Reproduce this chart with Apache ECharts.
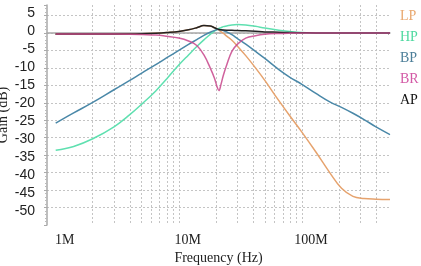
<!DOCTYPE html>
<html><head><meta charset="utf-8">
<script src="https://cdn.jsdelivr.net/npm/echarts@6/dist/echarts.min.js"></script>
<style>html,body{margin:0;padding:0;background:#fff}#c{width:421px;height:266px}</style>
</head><body><div id="c"></div>
<script>
const freqHz = [1e6, 1.4e6, 2e6, 3e6, 4e6, 5e6, 6.5e6, 8e6, 10e6, 12e6, 14e6, 16e6, 18e6, 19.5e6, 20.5e6, 21.2e6, 22e6, 23e6, 24.5e6, 27e6, 30e6, 35e6, 42e6, 50e6, 65e6, 80e6, 100e6, 130e6, 170e6, 210e6, 260e6, 320e6, 400e6, 520e6];
const lpGain = [-0.3,-0.3,-0.3,-0.3,-0.3,-0.25,-0.1,0.1,0.4,0.9,1.5,2.1,2.0,1.5,1.1,0.8,0.4,-0.1,-0.9,-2.1,-3.8,-6.5,-10.0,-13.6,-19.4,-23.8,-28.4,-34.1,-40.2,-44.5,-46.8,-47.4,-47.6,-47.7];
const hpGain = [-33.6,-32.5,-30.3,-26.8,-23.4,-20.4,-16.6,-13.1,-9.2,-6.3,-3.9,-2.0,-0.4,0.5,1.0,1.3,1.5,1.8,2.0,2.3,2.4,2.3,1.9,1.4,0.8,0.4,0.1,0,-0.05,-0.05,-0.05,-0.05,-0.05,-0.05];
const bpGain = [-25.8,-22.9,-19.9,-16.2,-13.6,-11.5,-9.1,-7.1,-5.0,-3.3,-1.9,-0.7,0.2,0.7,0.95,1.0,0.9,0.7,0.3,-0.5,-1.6,-3.2,-5.3,-7.3,-10.5,-12.7,-14.7,-17.3,-19.8,-21.3,-23.0,-24.8,-26.9,-29.1];
const brGain = [-0.3,-0.3,-0.3,-0.3,-0.35,-0.45,-0.6,-0.95,-1.45,-2.3,-3.6,-6.3,-10.0,-13.0,-15.5,-16.5,-14.8,-12.2,-9.2,-5.3,-3.2,-1.5,-0.8,-0.4,-0.15,-0.05,0,0,0,0,0,0,0,0];
const apGain = [-0.3,-0.3,-0.3,-0.3,-0.3,-0.25,-0.1,0.1,0.4,0.9,1.5,2.1,2.0,1.5,1.15,1.0,0.9,0.85,0.8,0.75,0.7,0.6,0.45,0.3,0.2,0.1,0.05,0,0,0,0,0,0,0];

const xGridValues = [1e6,2e6,3e6,4e6,5e6,6e6,7e6,8e6,9e6,1e7,2e7,3e7,4e7,5e7,6e7,7e7,8e7,9e7,1e8,2e8,3e8,4e8,5e8];
const xTickValues = [1e6, 1e7, 1e8];
const xTickLabels = ['1M', '10M', '100M'];
const yTickValues = [5, 0, -5, -10, -15, -20, -25, -30, -35, -40, -45, -50];

const names = ['LP', 'HP', 'BP', 'BR', 'AP'];
const lineColors = {LP: '#e6a36e', HP: '#5fe0b0', BP: '#4a88a8', BR: '#c8468c', AP: '#222222'};
const legendColors = {LP: '#e9a86f', HP: '#4fd9a0', BP: '#4d7f99', BR: '#d35aa6', AP: '#111111'};
const gains = {LP: lpGain, HP: hpGain, BP: bpGain, BR: brGain, AP: apGain};
const drawOrder = ['LP', 'HP', 'BP', 'AP', 'BR'];

const serif = 'Liberation Serif';
const chart = echarts.init(document.getElementById('c'), null, {renderer: 'canvas'});
chart.setOption({
  animation: false,
  backgroundColor: '#ffffff',
  grid: {left: 47, right: 31, top: 5, bottom: 41, containLabel: false, outerBoundsMode: 'none'},
  legend: {
    orient: 'vertical', left: 390, top: 4, icon: 'none', itemWidth: 0, itemHeight: 14, itemGap: 7,
    selectedMode: false,
    textStyle: {fontFamily: serif, fontSize: 14},
    data: names.map(n => ({name: n, textStyle: {color: legendColors[n]}}))
  },
  xAxis: {
    type: 'log', logBase: 10, min: 8.5e5, max: 5.2e8,
    name: 'Frequency (Hz)', nameLocation: 'middle', nameGap: 26, nameMoveOverlap: false,
    nameTextStyle: {fontFamily: serif, fontSize: 14, color: '#222'},
    axisLine: {show: true, lineStyle: {color: '#a8a8a8', width: 1.5}},
    axisTick: {show: true, customValues: xGridValues, length: 2, lineStyle: {color: '#aaa'}},
    axisLabel: {
      customValues: xTickValues, margin: 8, padding: [0, 0, 0, 18],
      fontFamily: serif, fontSize: 14, color: '#222',
      formatter: v => {
        const i = xTickValues.findIndex(t => Math.abs(Math.log10(t) - Math.log10(v)) < 1e-6);
        return i >= 0 ? xTickLabels[i] : '';
      }
    },
    splitLine: {show: true, showMinLine: false, showMaxLine: false, lineStyle: {color: '#c4c4c4', type: [2, 2], width: 1}},
    minorTick: {show: false}, minorSplitLine: {show: false}
  },
  yAxis: [{
    type: 'value', min: -55, max: 8, interval: 5, position: 'left', offset: 0,
    name: 'Gain (dB)', nameLocation: 'middle', nameGap: 37, nameRotate: 90, nameMoveOverlap: false,
    nameTextStyle: {fontFamily: serif, fontSize: 14, color: '#222'},
    axisLine: {show: true, lineStyle: {color: '#a8a8a8', width: 1.5}},
    axisTick: {show: true, length: 3, lineStyle: {color: '#aaa'}},
    minorTick: {show: true, splitNumber: 5, length: 2, lineStyle: {color: '#bbb'}},
    axisLabel: {show: false},
    splitLine: {show: true, showMinLine: false, showMaxLine: false, lineStyle: {color: '#c4c4c4', type: [2, 2], width: 1}}
  }, {
    type: 'value', min: -53.74, max: 7.35, position: 'left', offset: 0,
    axisLine: {show: false}, axisTick: {show: false}, splitLine: {show: false},
    axisLabel: {customValues: yTickValues, margin: 12, fontFamily: 'Liberation Sans', fontSize: 14, color: '#222'}
  }],
  series: drawOrder.map(n => ({
    name: n, type: 'line', xAxisIndex: 0, yAxisIndex: 0,
    data: freqHz.map((f, i) => [f, gains[n][i]]),
    showSymbol: false, symbol: 'none', smooth: 0.4,
    lineStyle: {color: lineColors[n], width: 1.5, opacity: n === 'BR' ? 0.85 : 1},
    itemStyle: {color: lineColors[n]}
  }))
});
</script></body></html>
